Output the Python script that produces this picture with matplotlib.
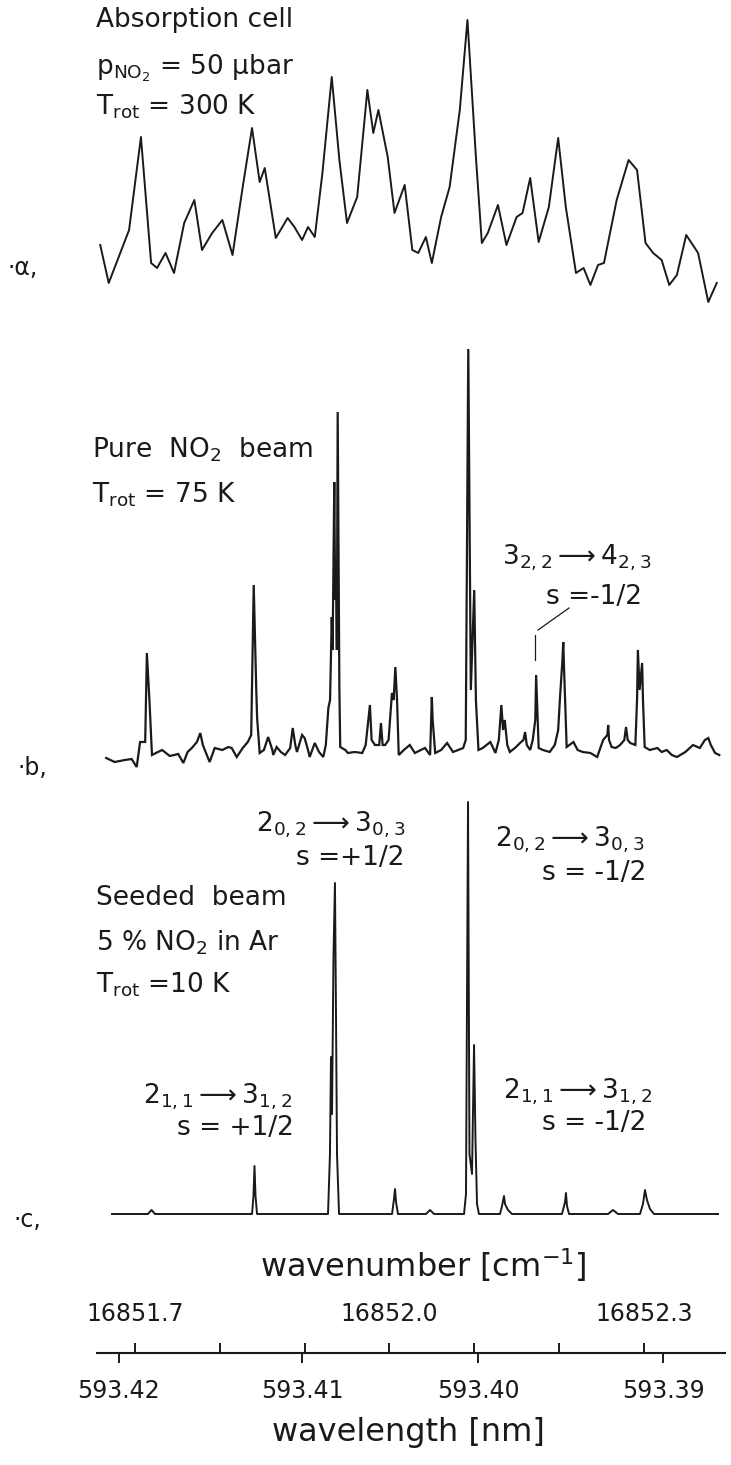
import numpy as np
import matplotlib.pyplot as plt

# Spectra of NO2 near 593.4 nm: (a) absorption cell, (b) pure beam, (c) seeded beam

# (a) absorption cell, T_rot = 300 K  (wavenumber in cm-1, signal in arb. units)
wn_a = [16851.659, 16851.669, 16851.693, 16851.707, 16851.719, 16851.726, 16851.736,
        16851.746, 16851.758, 16851.770, 16851.779, 16851.791, 16851.803, 16851.815,
        16851.827, 16851.838, 16851.847, 16851.853, 16851.866, 16851.880, 16851.888,
        16851.897, 16851.904, 16851.912, 16851.921, 16851.932, 16851.941, 16851.950,
        16851.962, 16851.974, 16851.981, 16851.987, 16851.998, 16852.006, 16852.018,
        16852.027, 16852.034, 16852.043, 16852.050, 16852.061, 16852.071, 16852.083,
        16852.092, 16852.102, 16852.109, 16852.116, 16852.128, 16852.138, 16852.150,
        16852.157, 16852.166, 16852.176, 16852.188, 16852.199, 16852.208, 16852.220,
        16852.229, 16852.237, 16852.246, 16852.253, 16852.268, 16852.282, 16852.292,
        16852.302, 16852.311, 16852.321, 16852.330, 16852.339, 16852.350, 16852.364,
        16852.376, 16852.386]
abs_a = [65, 27, 80, 173, 47, 42, 57, 37, 87, 110, 60, 77, 90, 55, 123, 182, 128, 142,
         72, 92, 83, 70, 83, 73, 137, 233, 150, 87, 113, 220, 177, 200, 153, 97, 125, 60,
         57, 73, 47, 93, 123, 200, 290, 153, 67, 77, 105, 65, 93, 97, 132, 68, 103, 172,
         103, 37, 42, 25, 45, 47, 110, 150, 140, 67, 57, 50, 25, 35, 75, 57, 8, 27]

# (b) pure NO2 beam, T_rot = 75 K
wn_b = [16851.666, 16851.676, 16851.688, 16851.696, 16851.702, 16851.706, 16851.712,
        16851.714, 16851.717, 16851.720, 16851.727, 16851.732, 16851.741, 16851.751,
        16851.757, 16851.762, 16851.767, 16851.773, 16851.777, 16851.780, 16851.788,
        16851.794, 16851.803, 16851.810, 16851.814, 16851.820, 16851.827, 16851.833,
        16851.837, 16851.840, 16851.843, 16851.844, 16851.847, 16851.852, 16851.857,
        16851.862, 16851.863, 16851.867, 16851.872, 16851.877, 16851.883, 16851.886,
        16851.889, 16851.891, 16851.897, 16851.900, 16851.904, 16851.906, 16851.912,
        16851.917, 16851.922, 16851.925, 16851.928, 16851.930, 16851.932, 16851.933,
        16851.935, 16851.936, 16851.937, 16851.938, 16851.939, 16851.941, 16851.942,
        16851.948, 16851.951, 16851.959, 16851.968, 16851.972, 16851.977, 16851.979,
        16851.983, 16851.988, 16851.990, 16851.992, 16851.995, 16851.999, 16852.003,
        16852.005, 16852.007, 16852.009, 16852.011, 16852.017, 16852.024, 16852.030,
        16852.037, 16852.042, 16852.048, 16852.050, 16852.051, 16852.054, 16852.061,
        16852.068, 16852.075, 16852.081, 16852.087, 16852.090, 16852.093, 16852.096,
        16852.100, 16852.102, 16852.105, 16852.110, 16852.119, 16852.125, 16852.129,
        16852.132, 16852.134, 16852.136, 16852.139, 16852.142, 16852.148, 16852.154,
        16852.158, 16852.160, 16852.162, 16852.166, 16852.169, 16852.172, 16852.173,
        16852.174, 16852.176, 16852.181, 16852.189, 16852.195, 16852.199, 16852.201,
        16852.204, 16852.205, 16852.206, 16852.208, 16852.209, 16852.217, 16852.222,
        16852.228, 16852.237, 16852.245, 16852.252, 16852.257, 16852.258, 16852.259,
        16852.262, 16852.267, 16852.272, 16852.277, 16852.279, 16852.281, 16852.284,
        16852.290, 16852.292, 16852.293, 16852.295, 16852.298, 16852.299, 16852.301,
        16852.307, 16852.316, 16852.321, 16852.327, 16852.333, 16852.339, 16852.349,
        16852.358, 16852.366, 16852.372, 16852.376, 16852.379, 16852.384, 16852.389]
sig_b = [2, -2, 0, 1, -7, 18, 18, 107, 60, 5, 8, 10, 4, 6, -3, 8, 12, 18, 27, 15, -2,
         12, 10, 13, 12, 3, 12, 18, 25, 175, 70, 42, 7, 10, 23, 10, 5, 13, 8, 5, 12, 32,
         15, 8, 25, 22, 10, 3, 17, 8, 3, 15, 52, 60, 143, 110, 278, 160, 200, 110, 348,
         70, 13, 10, 7, 8, 7, 15, 55, 20, 15, 15, 37, 15, 15, 20, 67, 60, 93, 60, 5, 10,
         15, 7, 10, 12, 5, 63, 40, 7, 10, 17, 8, 10, 12, 20, 411, 70, 170, 60, 10, 12, 18,
         7, 20, 55, 30, 40, 15, 8, 12, 17, 20, 28, 15, 10, 20, 40, 85, 60, 12, 10, 8, 15,
         30, 60, 100, 118, 90, 40, 13, 18, 10, 8, 7, 3, 20, 25, 35, 20, 13, 12, 15, 20, 33,
         20, 17, 15, 60, 110, 70, 97, 60, 13, 10, 12, 8, 10, 5, 3, 8, 15, 12, 20, 22, 15,
         7, 5]

# (c) seeded beam, 5 % NO2 in Ar, T_rot = 10 K
wn_c = [16851.6729, 16851.7153, 16851.7195, 16851.7236, 16851.8380, 16851.8397,
        16851.8409, 16851.8421, 16851.8439, 16851.9276, 16851.9299, 16851.9311,
        16851.9323, 16851.9341, 16851.9358, 16851.9370, 16851.9382, 16851.9406,
        16852.0031, 16852.0054, 16852.0066, 16852.0078, 16852.0101, 16852.0432,
        16852.0479, 16852.0526, 16852.0880, 16852.0903, 16852.0927, 16852.0944,
        16852.0974, 16852.0998, 16852.1015, 16852.1033, 16852.1056, 16852.1304,
        16852.1328, 16852.1351, 16852.1363, 16852.1398, 16852.1446, 16852.2035,
        16852.2071, 16852.2082, 16852.2094, 16852.2118, 16852.2578, 16852.2637,
        16852.2696, 16852.2955, 16852.2990, 16852.3014, 16852.3037, 16852.3073,
        16852.3120, 16852.3875]
sig_c = [0, 0, 4, 0, 0, 18, 48, 18, 0, 0, 60, 157, 100, 261, 331, 200, 60, 0,
         0, 15, 25, 12, 0, 0, 4, 0, 0, 20, 412, 60, 40, 169, 74, 10, 0,
         0, 8, 18, 10, 4, 0, 0, 12, 21, 8, 0, 0, 4, 0, 0, 10, 24, 14, 5, 0, 0]

# bottom scale
wn_ticks = [16851.7, 16851.8, 16851.9, 16852.0, 16852.1, 16852.2, 16852.3]
wn_labels = ["16851.7", "", "", "16852.0", "", "", "16852.3"]
wl_ticks = [16851.681, 16851.897, 16852.105, 16852.323]
wl_labels = ["593.42", "593.41", "593.40", "593.39"]

plt.rcParams['font.family'] = ['DejaVu Sans']
plt.rcParams['mathtext.fontset'] = 'dejavusans'
plt.rcParams['mathtext.default'] = 'regular'

XMIN, XMAX = 16851.5408, 16852.4028
H = 1465.0
ink = '#1a1a1a'

fig = plt.figure(figsize=(7.31, 14.65), dpi=100)


def panel(top, bottom, ylim):
    ax = fig.add_axes([0, 1 - bottom / H, 1, (bottom - top) / H])
    ax.set_xlim(XMIN, XMAX)
    ax.set_ylim(*ylim)
    ax.axis('off')
    return ax


fs = 19

# (a)
ax_a = panel(0, 320, (-10, 310))
ax_a.plot(wn_a, abs_a, color=ink, lw=1.4, solid_joinstyle='round')
ax_a.text(16851.654, 290, "Absorption cell", fontsize=fs, va='center', color=ink)
ax_a.text(16851.654, 242, r"p$_{NO_2}$ = 50 µbar", fontsize=fs, va='center', color=ink)
ax_a.text(16851.654, 203, r"T$_{rot}$ = 300 K", fontsize=fs, va='center', color=ink)
ax_a.text(16851.550, 42, "·α,", fontsize=17, va='center', color=ink)

# (b)
ax_b = panel(340, 780, (-20, 420))
ax_b.plot(wn_b, sig_b, color=ink, lw=1.6, solid_joinstyle='miter')
ax_b.text(16851.649, 310, r"Pure  NO$_2$  beam", fontsize=fs, va='center', color=ink)
ax_b.text(16851.649, 265, r"T$_{rot}$ = 75 K", fontsize=fs, va='center', color=ink)
ax_b.text(16852.221, 202, r"$3_{2,2}\longrightarrow 4_{2,3}$", fontsize=fs,
          ha='center', va='center', color=ink)
ax_b.text(16852.241, 163, "s =-1/2", fontsize=fs, ha='center', va='center', color=ink)
ax_b.plot([16852.1717, 16852.1717], [100, 125], color=ink, lw=0.9)
ax_b.plot([16852.1752, 16852.2118], [130, 152], color=ink, lw=0.9)
ax_b.text(16851.562, -8, "·b,", fontsize=17, va='center', color=ink)

# (c)
ax_c = panel(780, 1240, (-26, 434))
ax_c.plot(wn_c, sig_c, color=ink, lw=1.4)
ax_c.text(16851.931, 389, r"$2_{0,2}\longrightarrow 3_{0,3}$", fontsize=fs,
          ha='center', va='center', color=ink)
ax_c.text(16851.954, 356, "s =+1/2", fontsize=fs, ha='center', va='center', color=ink)
ax_c.text(16852.213, 374, r"$2_{0,2}\longrightarrow 3_{0,3}$", fontsize=fs,
          ha='center', va='center', color=ink)
ax_c.text(16852.241, 341, "s = -1/2", fontsize=fs, ha='center', va='center', color=ink)
ax_c.text(16851.654, 316, "Seeded  beam", fontsize=fs, va='center', color=ink)
ax_c.text(16851.654, 271, r"5 % NO$_2$ in Ar", fontsize=fs, va='center', color=ink)
ax_c.text(16851.654, 229, r"T$_{rot}$ =10 K", fontsize=fs, va='center', color=ink)
ax_c.text(16851.797, 117, r"$2_{1,1}\longrightarrow 3_{1,2}$", fontsize=fs,
          ha='center', va='center', color=ink)
ax_c.text(16851.818, 86, "s = +1/2", fontsize=fs, ha='center', va='center', color=ink)
ax_c.text(16852.222, 122, r"$2_{1,1}\longrightarrow 3_{1,2}$", fontsize=fs,
          ha='center', va='center', color=ink)
ax_c.text(16852.242, 91, "s = -1/2", fontsize=fs, ha='center', va='center', color=ink)
ax_c.text(16851.557, -6, "·c,", fontsize=17, va='center', color=ink)

# double scale: wavenumber on top, wavelength below
ax_s = fig.add_axes([0, 1 - 1353 / H, 1, 0.0001])
ax_s.set_xlim(XMIN, XMAX)
ax_s.set_yticks([])
for side in ['left', 'right', 'top']:
    ax_s.spines[side].set_visible(False)
ax_s.spines['bottom'].set_bounds(16851.655, 16852.396)
ax_s.spines['bottom'].set_linewidth(1.5)
ax_s.spines['bottom'].set_color(ink)
ax_s.set_xticks(wl_ticks, labels=wl_labels)
ax_s.tick_params(axis='x', direction='out', length=7.5, width=1.4, color=ink,
                 labelsize=17, labelcolor=ink, pad=11)

sec = ax_s.secondary_xaxis('top')
sec.set_xticks(wn_ticks, labels=wn_labels)
sec.spines['top'].set_visible(False)
sec.tick_params(axis='x', direction='out', length=7.5, width=1.4, color=ink,
                labelsize=17, labelcolor=ink, pad=12)

fig.text(423 / 731, 1 - 1265 / H, r"wavenumber [cm$^{-1}$]", fontsize=23,
         ha='center', va='center', color=ink)
fig.text(408 / 731, 1 - 1433 / H, "wavelength [nm]", fontsize=23,
         ha='center', va='center', color=ink)

fig.savefig("out.png", dpi=100, facecolor='white')
